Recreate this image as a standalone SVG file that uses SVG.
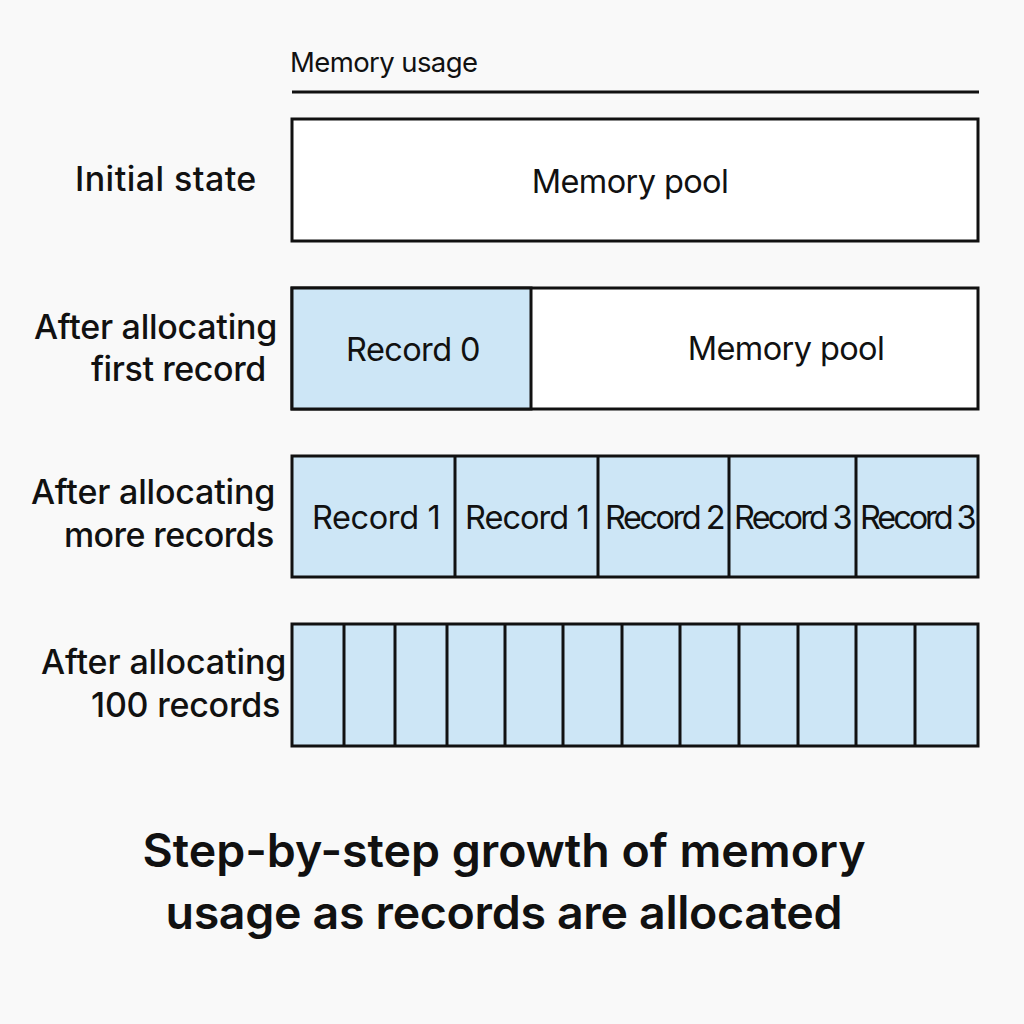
<svg xmlns="http://www.w3.org/2000/svg" width="1024" height="1024" viewBox="0 0 1024 1024">
<style>
.bg{fill:#f9f9f9}
.box{fill:#ffffff;stroke:#111;stroke-width:3}
.rec{fill:#cde6f6;stroke:#111;stroke-width:3}
.div{stroke:#111;stroke-width:3}
.lbl{font-family:Inter,"Liberation Sans",sans-serif;font-size:34px;font-weight:500;fill:#111;text-anchor:end;letter-spacing:-0.3px}
.in{font-family:Inter,"Liberation Sans",sans-serif;font-size:32.5px;fill:#111;text-anchor:middle;letter-spacing:-0.6px}
.title{font-family:Inter,"Liberation Sans",sans-serif;font-size:46.5px;font-weight:600;fill:#111;text-anchor:middle}
</style>
<rect class="bg" x="0" y="0" width="1024" height="1024"/>
<g id="header">
<text x="290" y="72" style="font-family:Inter,'Liberation Sans',sans-serif;font-size:27.5px;fill:#111;letter-spacing:-0.6px">Memory usage</text>
<line x1="292" y1="92" x2="979" y2="92" stroke="#111" stroke-width="3"/>
</g>
<g id="row-initial">
<text class="lbl" x="256" y="191" textLength="181">Initial state</text>
<rect class="box" x="292" y="119" width="686" height="122"/>
<text class="in" x="630" y="193">Memory pool</text>
</g>
<g id="row-first">
<text class="lbl" x="277" y="339" textLength="243">After allocating</text>
<text class="lbl" x="266" y="381" textLength="175">first record</text>
<rect class="box" x="292" y="288" width="686" height="121"/>
<rect class="rec" x="292" y="288" width="239" height="121"/>
<text class="in" x="413" y="361">Record 0</text>
<text class="in" x="786" y="360">Memory pool</text>
</g>
<g id="row-more">
<text class="lbl" x="275" y="504" textLength="244">After allocating</text>
<text class="lbl" x="274" y="547" textLength="210">more records</text>
<rect class="rec" x="292" y="456" width="686" height="121"/>
<line class="div" x1="455" y1="456" x2="455" y2="577"/>
<line class="div" x1="598" y1="456" x2="598" y2="577"/>
<line class="div" x1="729" y1="456" x2="729" y2="577"/>
<line class="div" x1="856" y1="456" x2="856" y2="577"/>
<text class="in" x="376" y="529" textLength="128">Record 1</text>
<text class="in" x="527" y="529" textLength="124">Record 1</text>
<text class="in" x="665" y="529" textLength="120">Record 2</text>
<text class="in" x="793" y="529" textLength="118">Record 3</text>
<text class="in" x="918" y="529" textLength="116">Record 3</text>
</g>
<g id="row-100">
<text class="lbl" x="286" y="674" textLength="245">After allocating</text>
<text class="lbl" x="280" y="717" textLength="189">100 records</text>
<rect class="rec" x="292" y="624" width="686" height="122"/>
<line class="div" x1="344" y1="624" x2="344" y2="746"/>
<line class="div" x1="395" y1="624" x2="395" y2="746"/>
<line class="div" x1="447" y1="624" x2="447" y2="746"/>
<line class="div" x1="505" y1="624" x2="505" y2="746"/>
<line class="div" x1="563" y1="624" x2="563" y2="746"/>
<line class="div" x1="622" y1="624" x2="622" y2="746"/>
<line class="div" x1="680" y1="624" x2="680" y2="746"/>
<line class="div" x1="739" y1="624" x2="739" y2="746"/>
<line class="div" x1="798" y1="624" x2="798" y2="746"/>
<line class="div" x1="856" y1="624" x2="856" y2="746"/>
<line class="div" x1="915" y1="624" x2="915" y2="746"/>
</g>
<g id="caption">
<text class="title" x="504" y="867" textLength="723">Step-by-step growth of memory</text>
<text class="title" x="504" y="929" textLength="677">usage as records are allocated</text>
</g>
</svg>
